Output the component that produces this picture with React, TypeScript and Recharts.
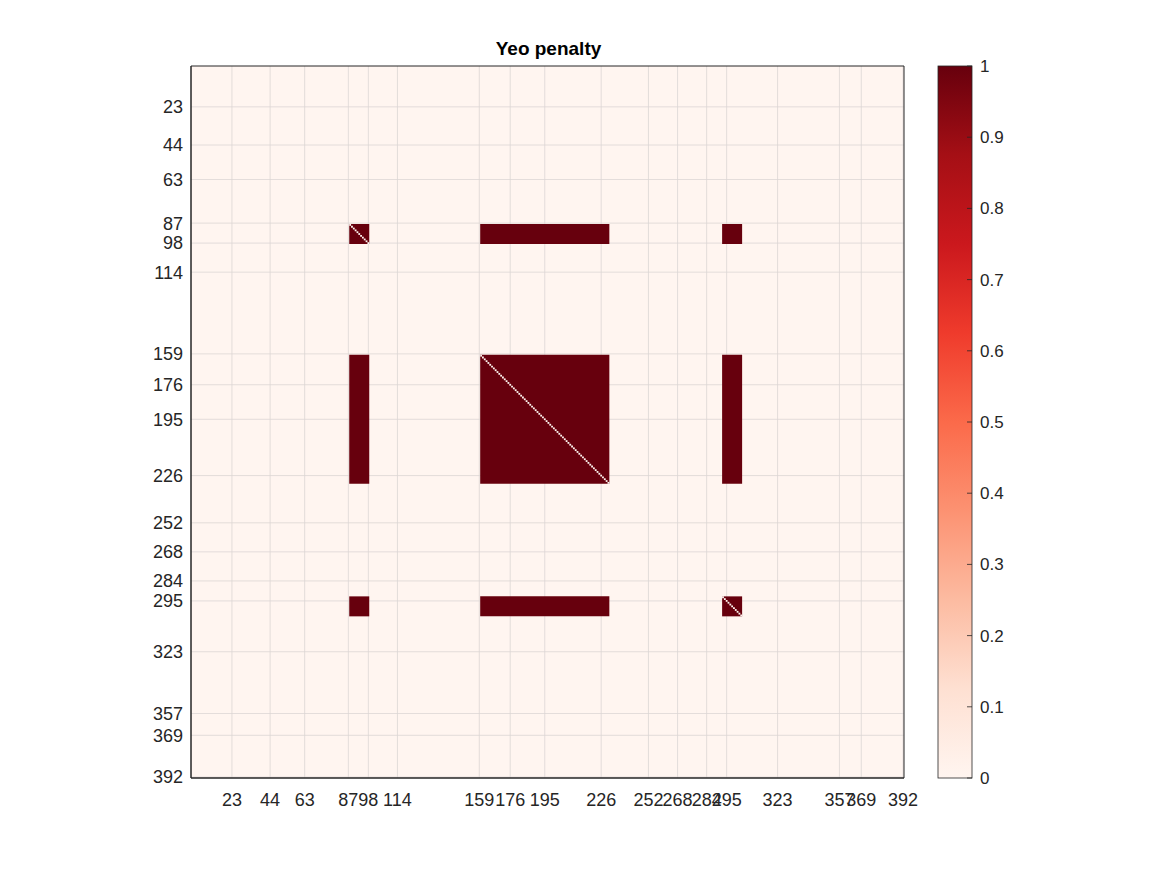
import React from 'react';
import { ComposedChart, XAxis, YAxis, CartesianGrid, ReferenceArea, Scatter } from 'recharts';

// matrix index ticks
const ticks = [23, 44, 63, 87, 98, 114, 159, 176, 195, 226, 252, 268, 284, 295, 323, 357, 369, 392];
// network blocks that carry penalty 1 (start/end index, inclusive)
const blockStarts = [88, 160, 293];
const blockEnds = [98, 230, 303];
const colorbarTicks = [0, 0.1, 0.2, 0.3, 0.4, 0.5, 0.6, 0.7, 0.8, 0.9, 1];
const reds = ['#fff5f0', '#fee0d2', '#fcbba1', '#fc9272', '#fb6a4a', '#ef3b2c', '#cb181d', '#a50f15', '#67000d'];

const DARK = '#67000d';
const FONT = 'Liberation Sans, Arial, sans-serif';

const blocks = blockStarts.map((s, i) => ({ s, e: blockEnds[i] }));
const diag: number[] = [];
blocks.forEach(b => {
  for (let k = b.s; k <= b.e; k++) diag.push(k);
});

const Colorbar: React.FC = () => {
  const top = 66, bottom = 778, x = 938, w = 34;
  const h = bottom - top;
  return (
    <svg width={1167} height={875} style={{ position: 'absolute', left: 0, top: 0, pointerEvents: 'none' }}>
      <defs>
        <linearGradient id="reds" x1="0" y1="1" x2="0" y2="0">
          {reds.map((c, i) => (
            <stop key={i} offset={i / (reds.length - 1)} stopColor={c} />
          ))}
        </linearGradient>
      </defs>
      <rect x={x} y={top} width={w} height={h} fill="url(#reds)" stroke="#262626" strokeWidth={0.8} />
      {colorbarTicks.map(t => {
        const y = bottom - t * h;
        return (
          <g key={t}>
            <line x1={x + w - 5} x2={x + w} y1={y} y2={y} stroke="#262626" strokeWidth={0.8} />
            <text x={x + w + 8} y={y + 6} fontSize={17} fontFamily={FONT} fill="#262626">{t}</text>
          </g>
        );
      })}
    </svg>
  );
};

export default function App() {
  return (
    <div style={{ position: 'absolute', left: 0, top: 0, width: 1167, height: 875, background: '#fff' }}>
      <div style={{ position: 'absolute', left: 0, width: 1097, top: 38, textAlign: 'center', fontFamily: FONT, fontWeight: 'bold', fontSize: 19, color: '#000' }}>
        Yeo penalty
      </div>
      <ComposedChart width={1167} height={875} margin={{ top: 66, left: 141, right: 263, bottom: 67 }}>
        <CartesianGrid xAxisId="b" yAxisId="l" fill="#fff5f0" fillOpacity={1} stroke="#dcd6d4" strokeWidth={0.8}
          verticalValues={ticks} horizontalValues={ticks} />
        <XAxis type="number" dataKey="x" xAxisId="b" domain={[0.5, 392.5]} ticks={ticks} allowDataOverflow
          height={30} tickLine={false} axisLine={{ stroke: '#262626' }}
          tick={{ fontSize: 18, fontFamily: FONT, fill: '#262626', dy: 7 }} interval={0} />
        <YAxis type="number" dataKey="y" yAxisId="l" domain={[0.5, 392.5]} reversed ticks={ticks} allowDataOverflow
          width={50} tickLine={false} axisLine={{ stroke: '#262626' }}
          tick={{ fontSize: 18, fontFamily: FONT, fill: '#262626' }} interval={0} />
        {blocks.map((bx, i) =>
          blocks.map((by, j) => (
            <ReferenceArea key={`b${i}-${j}`} xAxisId="b" yAxisId="l"
              x1={bx.s - 0.5} x2={bx.e + 0.5} y1={by.s - 0.5} y2={by.e + 0.5}
              fill={DARK} fillOpacity={1} stroke="none" ifOverflow="hidden" />
          ))
        )}
        {diag.map(k => (
          <ReferenceArea key={`d${k}`} xAxisId="b" yAxisId="l"
            x1={k - 0.5} x2={k + 0.5} y1={k - 0.5} y2={k + 0.5}
            fill="#fff5f0" fillOpacity={1} stroke="none" />
        ))}
        <ReferenceArea xAxisId="b" yAxisId="l" x1={0.5} x2={392.5} y1={0.5} y2={392.5}
          fill="none" fillOpacity={0} stroke="#262626" strokeWidth={1} />
        <Scatter xAxisId="b" yAxisId="l" data={[]} isAnimationActive={false} />
      </ComposedChart>
      <Colorbar />
    </div>
  );
}
